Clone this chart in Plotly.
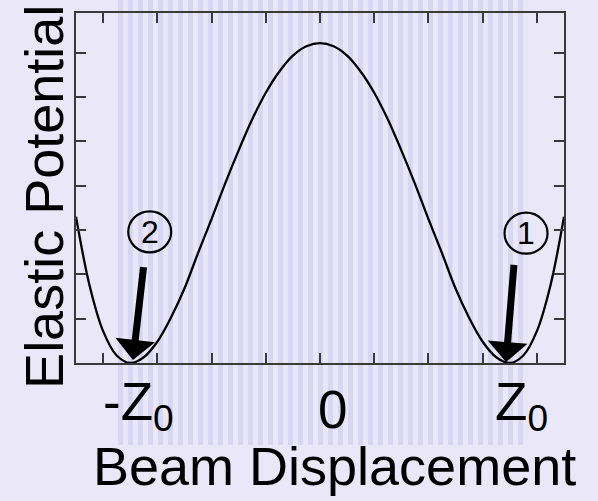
import plotly.graph_objects as go

# Curve values (beam displacement vs elastic potential)
displacement = [-4.5, -4.25, -4.0, -3.75, -3.5, -3.25, -3.0, -2.75, -2.5, -2.25,
                -2.0, -1.75, -1.5, -1.25, -1.0, -0.75, -0.5, -0.25, 0.0,
                0.25, 0.5, 0.75, 1.0, 1.25, 1.5, 1.75, 2.0, 2.25, 2.5,
                2.75, 3.0, 3.25, 3.5, 3.75, 4.0, 4.25, 4.5]
potential = [3.3, 1.75, 0.72, 0.17, 0.0, 0.13, 0.48, 1.02, 1.68, 2.48,
             3.25, 4.05, 4.8, 5.5, 6.1, 6.58, 6.94, 7.15, 7.22,
             7.15, 6.94, 6.58, 6.1, 5.5, 4.8, 4.05, 3.25, 2.48, 1.68,
             1.02, 0.48, 0.13, 0.0, 0.17, 0.72, 1.75, 3.3]

# Axis tick positions (unlabelled ticks) and the labelled positions
x_ticks = [-4, -3, -2, -1, 0, 1, 2, 3, 4]
y_ticks = [1, 2, 3, 4, 5, 6, 7]
label_text = ["-Z<sub>0</sub>", "0", "Z<sub>0</sub>"]
label_x = [-3.34, 0.23, 3.71]
label_y = [-0.12, -0.132, -0.12]

# Marker circles and arrows
marker_text = ["2", "1"]
marker_x = [-3.14, 3.80]
marker_y = [2.96, 2.93]
arrow_tail_x = [-3.25, 3.58]
arrow_tail_y = [2.21, 2.26]
arrow_tip_x = [-3.45, 3.43]
arrow_tip_y = [0.07, 0.02]

BG = "#E9E7F8"
STRIPE = "rgba(196,192,238,0.45)"
FONT = "Liberation Sans, Arial, sans-serif"

fig = go.Figure()
fig.add_trace(go.Scatter(x=displacement, y=potential, mode="lines",
                         line=dict(color="black", width=2.3, shape="spline", smoothing=1.0),
                         hoverinfo="skip", showlegend=False))

axis_common = dict(showgrid=False, zeroline=False, showline=True, linecolor="#3a3a3a",
                   linewidth=1.5, mirror="ticks", ticks="inside", ticklen=10,
                   tickcolor="#3a3a3a", tickwidth=1.5, showticklabels=False)
fig.update_xaxes(range=[-4.5, 4.5], tickmode="array", tickvals=x_ticks, **axis_common)
fig.update_yaxes(range=[0, 7.9], tickmode="array", tickvals=y_ticks, **axis_common)

annotations = []
for t, x, y in zip(label_text, label_x, label_y):
    annotations.append(dict(text=t, x=x, y=y, xref="x", yref="paper", showarrow=False,
                            xanchor="center", yanchor="middle",
                            font=dict(family=FONT, size=53, color="black")))
annotations.append(dict(text="Beam Displacement", x=0.529, y=-0.293, xref="paper", yref="paper",
                        showarrow=False, xanchor="center", yanchor="middle",
                        font=dict(family=FONT, size=54, color="black")))
annotations.append(dict(text="Elastic Potential", x=-0.066, y=0.474, xref="paper", yref="paper",
                        showarrow=False, xanchor="center", yanchor="middle", textangle=-90,
                        font=dict(family=FONT, size=54, color="black")))
for t, x, y in zip(marker_text, marker_x, marker_y):
    annotations.append(dict(text=t, x=x, y=y, xref="x", yref="y", showarrow=False,
                            xanchor="center", yanchor="middle",
                            font=dict(family=FONT, size=32, color="black")))
for tx, ty, hx, hy in zip(arrow_tail_x, arrow_tail_y, arrow_tip_x, arrow_tip_y):
    annotations.append(dict(text=" ", x=hx, y=hy, ax=tx, ay=ty, xref="x", yref="y",
                            axref="x", ayref="y", showarrow=True, arrowhead=1,
                            arrowsize=0.95, arrowwidth=7, arrowcolor="black", standoff=0,
                            font=dict(size=1)))

shapes = []
# background texture: faint vertical stripes behind the central part of the figure
plot_left_px, plot_width_px, plot_bottom_px, plot_height_px = 76, 488, 363, 350
for px in range(118, 522, 10):
    shapes.append(dict(type="rect", xref="paper", yref="paper", layer="below",
                       x0=(px - plot_left_px) / plot_width_px,
                       x1=(px + 5 - plot_left_px) / plot_width_px,
                       y0=(plot_bottom_px - 445) / plot_height_px,
                       y1=(plot_bottom_px - 0) / plot_height_px,
                       fillcolor=STRIPE, line=dict(width=0)))
for x, y in zip(marker_x, marker_y):
    shapes.append(dict(type="circle", xref="x", yref="y", xsizemode="pixel", ysizemode="pixel",
                       xanchor=x, yanchor=y, x0=-21.5, x1=21.5, y0=-20.5, y1=20.5,
                       line=dict(color="black", width=2.2)))

fig.update_layout(width=598, height=501, margin=dict(l=76, r=34, t=13, b=138),
                  paper_bgcolor=BG, plot_bgcolor="rgba(0,0,0,0)", annotations=annotations,
                  shapes=shapes, showlegend=False)

fig.write_html("out.html", config={"displayModeBar": False},
               post_script="document.body.style.margin='0';"
                           "document.body.style.background='" + BG + "';")
